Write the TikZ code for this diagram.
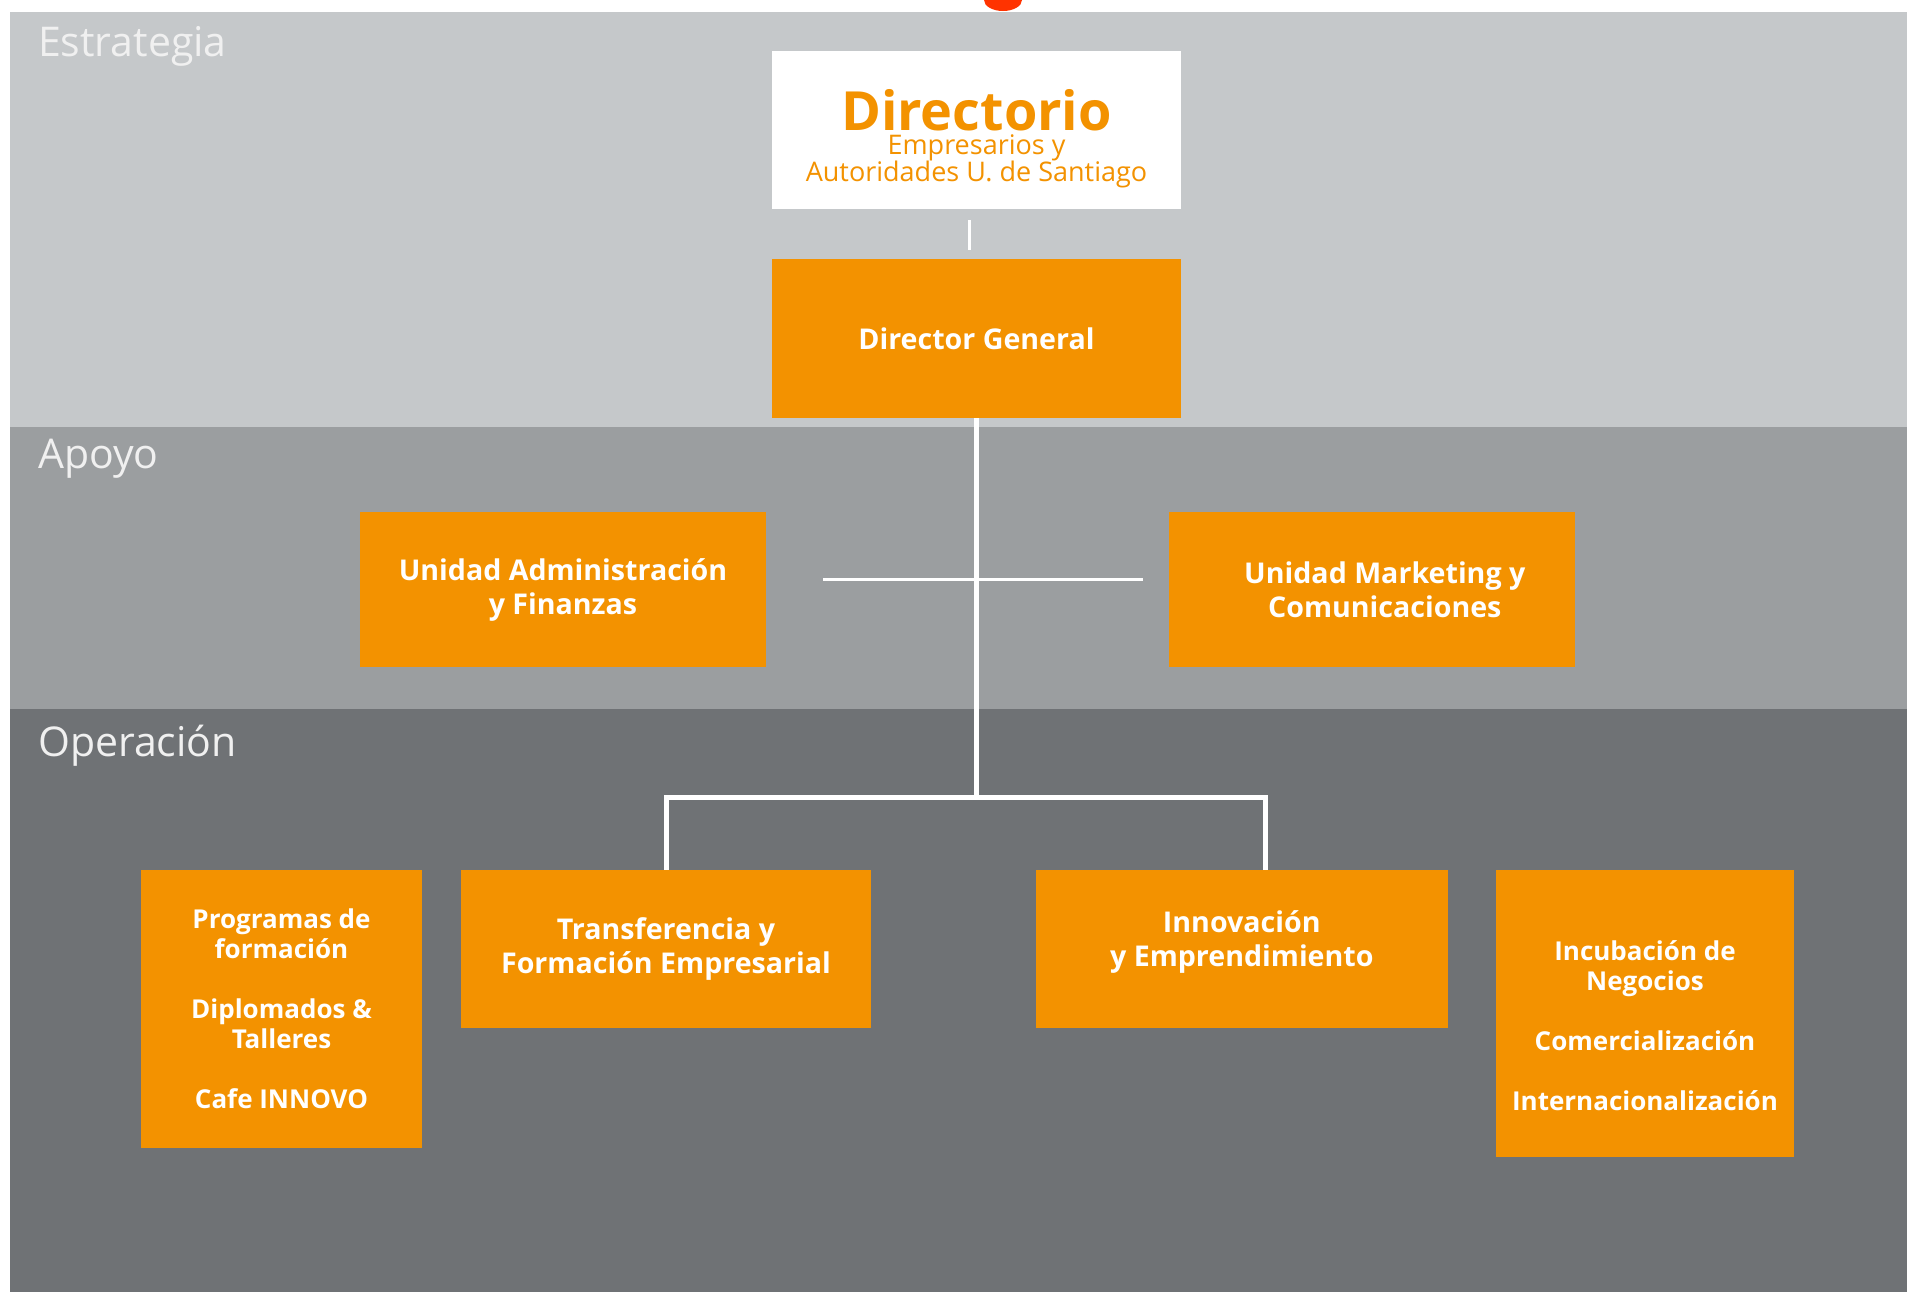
\documentclass[tikz,border=0pt]{standalone}
\usepackage{fontspec}
\setmainfont{Open Sans}
\usepackage{xcolor}
\usepackage{tikz}
\usetikzlibrary{positioning}

\definecolor{naranja}{RGB}{243,146,0}
\definecolor{grisA}{RGB}{197,200,202}
\definecolor{grisB}{RGB}{155,158,160}
\definecolor{grisC}{RGB}{111,114,117}
\definecolor{rojo}{RGB}{255,51,0}

\tikzset{
  caja/.style={fill=naranja, text=white, align=center, inner sep=0pt,
    font=\fontsize{14.3}{17}\selectfont\bfseries},
  lista/.style={font=\fontsize{13}{15}\selectfont\bfseries},
  nivel/.style={anchor=base west, text=white!94!black, font=\fontsize{20.5}{20.5}\selectfont},
  tronco/.style={draw=white, line width=2.5pt},
  rama/.style={draw=white, line width=1.5pt}
}

\begin{document}
\begin{tikzpicture}[x=0.5pt,y=-0.5pt]
% background bands
\useasboundingbox (0,0) rectangle (1907,1292);
\fill[white] (0,0) rectangle (1907,1292);
\begin{scope}
  \clip (0,0) rectangle (1907,12);
  \fill[rojo] (1003,0) ellipse [x radius=19, y radius=11];
\end{scope}
\fill[grisA] (10,12) rectangle (1907,427);
\fill[grisB] (10,427) rectangle (1907,709);
\fill[grisC] (10,709) rectangle (1907,1292);
\node (estrategia) [nivel] at (31,56) {Estrategia};
\node (apoyo) [nivel] at (31,468) {Apoyo};
\node (operacion) [nivel] at (31,756) {Operación};
% strategy
\node (dir) [fill=white, minimum width=204.5pt, minimum height=79pt] at (976.5,130) {};
\node (dirtexto) [align=center, text=naranja, font=\fontsize{13.5}{13.5}\selectfont] at (976.5,139)
  {{\fontsize{27}{27}\selectfont\bfseries Directorio}\\[-1.5pt]Empresarios y\\Autoridades U. de Santiago};
\node (dg) [caja, minimum width=204.5pt, minimum height=79.5pt, below=24.5pt of dir] {Director General};
% support
\node (adm) [caja, minimum width=203pt, minimum height=77.5pt] at (563,589.5) {Unidad Administración\\y Finanzas};
\node (mkt) [caja, minimum width=203pt, minimum height=77.5pt, right=201pt of adm]
  {\hspace*{13pt}Unidad Marketing y\\\hspace*{13pt}Comunicaciones};
% operation
\node (tra) [caja, minimum width=205pt, minimum height=79pt] at (666,949) {Transferencia y\\Formación Empresarial};
\node (inn) [caja, minimum width=206pt, minimum height=79pt, right=82pt of tra]
  {Innovación\\y Emprendimiento\rule[-10.4pt]{0pt}{0pt}};
\node (prog) [caja, lista, minimum width=140.5pt, minimum height=139pt] at (281.5,1009)
  {Programas de\\formación\\[15pt]Diplomados \&\\Talleres\\[15pt]Cafe INNOVO};
\node (incu) [caja, lista, minimum width=149pt, minimum height=143.5pt] at (1645,1013.5)
  {\rule{0pt}{21.7pt}Incubación de\\Negocios\\[15pt]Comercialización\\[15pt]Internacionalización};
% lines
\coordinate (split) at (976.5,797);
\draw [rama] ([shift={(-7,11)}]dir.south) -- ([shift={(-7,-8)}]dg.north);
\draw [tronco] (dg.south) -- (split);
\draw [tronco] (tra.north) |- (split) -| ([xshift=12pt]inn.north);
\draw [rama] ([shift={(57,-10)}]adm.east) -- ([shift={(-25,-10)}]mkt.west);
\end{tikzpicture}
\end{document}
